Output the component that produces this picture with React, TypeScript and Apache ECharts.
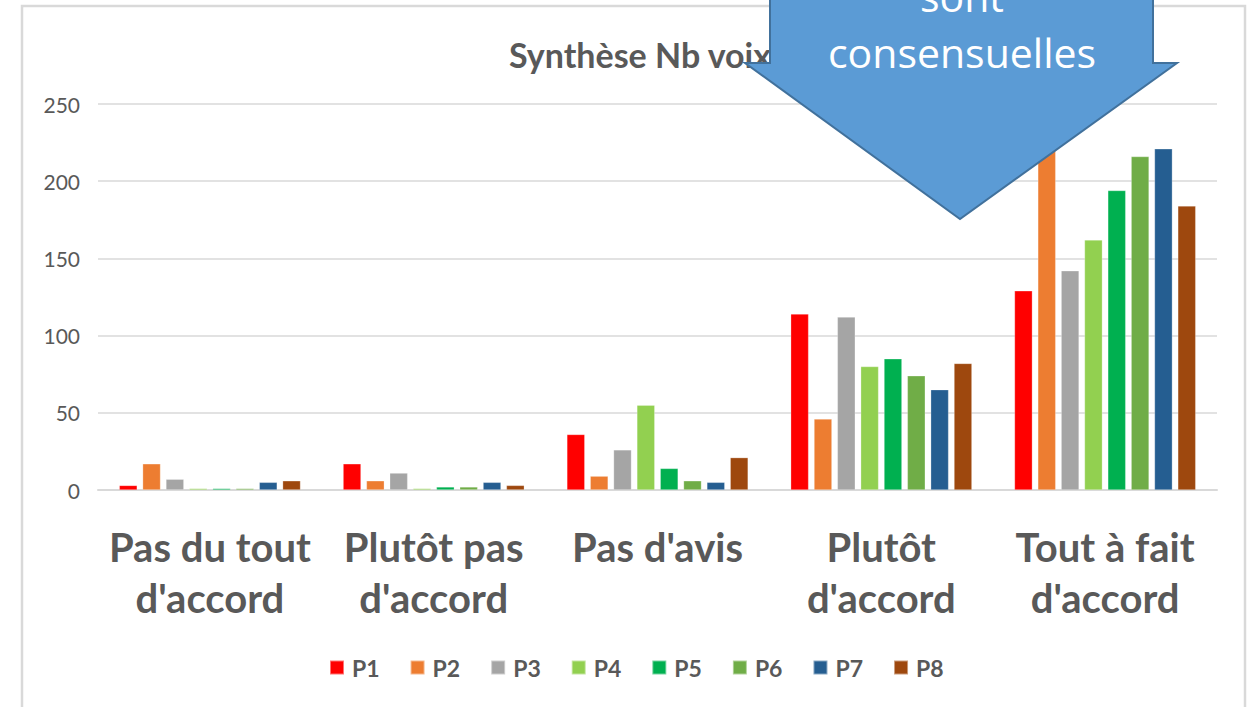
import React, { useEffect, useRef } from "react";
import * as echarts from "echarts";

const categories = [
  "Pas du tout\nd'accord",
  "Plutôt pas\nd'accord",
  "Pas d'avis",
  "Plutôt\nd'accord",
  "Tout à fait\nd'accord",
];
const seriesNames = ["P1", "P2", "P3", "P4", "P5", "P6", "P7", "P8"];
const colors = ["#FF0000", "#ED7D31", "#A5A5A5", "#92D050", "#00B050", "#70AD47", "#255E91", "#9E480E"];
const P1 = [3, 17, 36, 114, 129];
const P2 = [17, 6, 9, 46, 237];
const P3 = [7, 11, 26, 112, 142];
const P4 = [1, 1, 55, 80, 162];
const P5 = [1, 2, 14, 85, 194];
const P6 = [1, 2, 6, 74, 216];
const P7 = [5, 5, 5, 65, 221];
const P8 = [6, 3, 21, 82, 184];
const seriesValues = [P1, P2, P3, P4, P5, P6, P7, P8];
const yTicks = { min: 0, max: 250, interval: 50 };
const titleText = "Synthèse Nb voix";
const arrowLines = ["sont", "consensuelles"];

const FONT = "Lato, 'Open Sans', sans-serif";

export default function App() {
  const ref = useRef<HTMLDivElement>(null);
  useEffect(() => {
    if (!ref.current) return;
    const chart = echarts.init(ref.current, null, { renderer: "svg" });
    chart.setOption({
      animation: false,
      backgroundColor: "#ffffff",
      textStyle: { fontFamily: FONT },
      title: {
        text: titleText,
        left: 635,
        top: 32,
        textAlign: "center",
        textStyle: { fontSize: 34, fontWeight: "bold", color: "#595959", fontFamily: FONT },
      },
      grid: { left: 98, right: 36, top: 104, bottom: 217 },
      legend: {
        data: seriesNames,
        left: 324,
        top: 651,
        icon: "rect",
        itemWidth: 14,
        itemHeight: 14,
        itemGap: 30,
        textStyle: { fontSize: 23, fontWeight: "bold", color: "#595959", fontFamily: FONT, padding: [0, 0, 0, 3] },
      },
      xAxis: {
        type: "category",
        data: categories,
        axisLine: { lineStyle: { color: "#D9D9D9", width: 2 } },
        axisTick: { show: false },
        axisLabel: {
          interval: 0,
          hideOverlap: false,
          fontSize: 40,
          fontWeight: "bold",
          color: "#595959",
          lineHeight: 51,
          margin: 31,
          fontFamily: FONT,
        },
      },
      yAxis: {
        type: "value",
        min: yTicks.min,
        max: yTicks.max,
        interval: yTicks.interval,
        axisLine: { show: false },
        axisTick: { show: false },
        splitLine: { lineStyle: { color: "#D9D9D9", width: 1.5 } },
        axisLabel: { fontSize: 21, color: "#595959", margin: 18, fontFamily: FONT },
      },
      series: seriesNames.map((name, i) => ({
        name,
        type: "bar",
        data: seriesValues[i],
        barGap: "30%",
        barCategoryGap: "19%",
        itemStyle: { color: colors[i], borderColor: "rgba(255,255,255,0.45)", borderWidth: 0.6 },
      })),
      graphic: [
        {
          type: "rect",
          shape: { x: 22, y: 6, width: 1223, height: 740 },
          style: { fill: "none", stroke: "#D9D9D9", lineWidth: 2.5 },
          z: 1,
          silent: true,
        },
        {
          type: "polygon",
          shape: {
            points: [
              [770, -30],
              [1153, -30],
              [1153, 63],
              [1177, 63],
              [960, 219],
              [745, 63],
              [770, 63],
            ],
          },
          style: { fill: "#5B9BD5", stroke: "#41719C", lineWidth: 2 },
          z: 100,
        },
        {
          type: "text",
          x: 962,
          y: -4,
          style: {
            text: arrowLines[0],
            fill: "#ffffff",
            fontSize: 41,
            fontFamily: "'Open Sans', sans-serif",
            align: "center",
            verticalAlign: "middle",
          },
          z: 101,
        },
        {
          type: "text",
          x: 962,
          y: 52,
          style: {
            text: arrowLines[1],
            fill: "#ffffff",
            fontSize: 41,
            fontFamily: "'Open Sans', sans-serif",
            align: "center",
            verticalAlign: "middle",
          },
          z: 101,
        },
      ],
    });
    return () => chart.dispose();
  }, []);
  return (
    <div
      ref={ref}
      style={{ position: "fixed", left: 0, top: 0, width: 1253, height: 707 }}
    />
  );
}
